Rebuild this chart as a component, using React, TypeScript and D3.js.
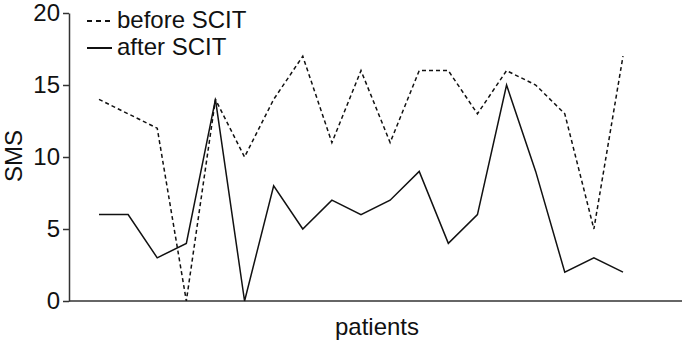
import React, { useEffect, useRef } from "react";
import * as d3 from "d3";

const patients = d3.range(1, 20);
const beforeSCIT = [14, 13, 12, 0, 14, 10, 14, 17, 11, 16, 11, 16, 16, 13, 16, 15, 13, 5, 17];
const afterSCIT = [6, 6, 3, 4, 14, 0, 8, 5, 7, 6, 7, 9, 4, 6, 15, 9, 2, 3, 2];
const yTicks = [0, 5, 10, 15, 20];

const App = () => {
  const ref = useRef<SVGSVGElement>(null);

  useEffect(() => {
    const svg = d3.select(ref.current);
    svg.selectAll("*").remove();

    const width = 685;
    const height = 343;
    const font = "Liberation Sans, Arial, sans-serif";
    const fs = 24;

    const x = d3.scaleLinear().domain([1, 19]).range([99, 623]);
    const y = d3.scaleLinear().domain([0, 20]).range([301, 13]);

    svg.attr("width", width).attr("height", height);

    // y axis
    const yAxis = svg
      .append("g")
      .attr("transform", "translate(69,0)")
      .call(d3.axisLeft(y).tickValues(yTicks).tickSize(6).tickPadding(3).tickSizeOuter(0));
    yAxis.select(".domain").attr("stroke", "#333").attr("stroke-width", 1.5);
    yAxis.selectAll(".tick line").attr("stroke", "#333").attr("stroke-width", 1.5);
    yAxis
      .selectAll(".tick text")
      .attr("font-family", font)
      .attr("font-size", fs)
      .attr("fill", "#111");

    // x axis line
    svg
      .append("line")
      .attr("x1", 69)
      .attr("x2", 682)
      .attr("y1", y(0))
      .attr("y2", y(0))
      .attr("stroke", "#333")
      .attr("stroke-width", 1.5);

    const line = d3
      .line<number>()
      .x((_, i) => x(patients[i]))
      .y((d) => y(d));

    svg
      .append("path")
      .datum(beforeSCIT)
      .attr("d", line)
      .attr("fill", "none")
      .attr("stroke", "#111")
      .attr("stroke-width", 1.5)
      .attr("stroke-dasharray", "4,3");

    svg
      .append("path")
      .datum(afterSCIT)
      .attr("d", line)
      .attr("fill", "none")
      .attr("stroke", "#111")
      .attr("stroke-width", 1.5);

    // legend
    const legend = [
      { label: "before SCIT", dash: "5,4", y: 21, x2: 110 },
      { label: "after SCIT", dash: null, y: 48, x2: 112 },
    ];
    legend.forEach((l) => {
      svg
        .append("line")
        .attr("x1", 87)
        .attr("x2", l.x2)
        .attr("y1", l.y)
        .attr("y2", l.y)
        .attr("stroke", "#111")
        .attr("stroke-width", 2)
        .attr("stroke-dasharray", l.dash);
      svg
        .append("text")
        .attr("x", 117)
        .attr("y", l.y)
        .attr("dy", "0.3em")
        .attr("font-family", font)
        .attr("font-size", fs)
        .attr("fill", "#111")
        .text(l.label);
    });

    svg
      .append("text")
      .attr("x", 377)
      .attr("y", 335)
      .attr("text-anchor", "middle")
      .attr("font-family", font)
      .attr("font-size", fs)
      .attr("fill", "#111")
      .text("patients");

    svg
      .append("text")
      .attr("transform", "translate(22,156) rotate(-90)")
      .attr("text-anchor", "middle")
      .attr("font-family", font)
      .attr("font-size", fs)
      .attr("fill", "#111")
      .text("SMS");
  }, []);

  return (
    <div style={{ position: "absolute", left: 0, top: 0 }}>
      <svg ref={ref}></svg>
    </div>
  );
};

export default App;
